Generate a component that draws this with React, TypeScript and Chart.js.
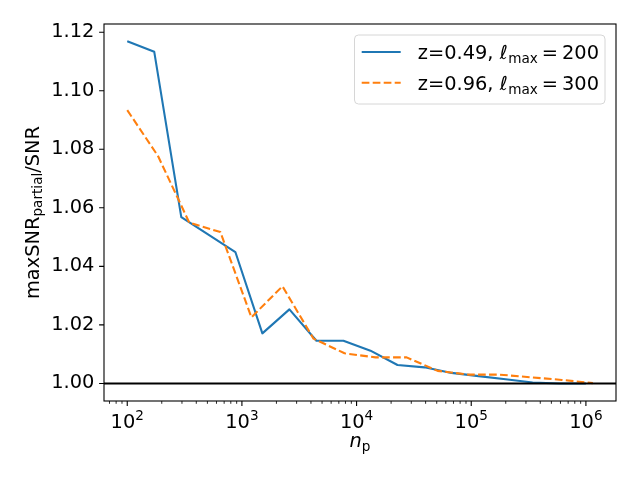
import { useEffect, useRef } from "react";
import { Chart, registerables } from "chart.js";

Chart.register(...registerables);

// series
const blueX = [100, 172, 296, 510, 877, 1508, 2595, 4465, 7682, 13219, 22744, 39132, 67331, 115848, 199328, 342965, 590103, 1000000];
const blueY = [1.1169, 1.1133, 1.0568, 1.0508, 1.0449, 1.0171, 1.0253, 1.0146, 1.0146, 1.0112, 1.0063, 1.0055, 1.0036, 1.0025, 1.0014, 1.0003, 1.0, 1.0];

const orangeX = [100, 186, 348, 649, 1210, 2257, 4210, 7852, 14646, 27317, 50951, 95034, 177254, 330613, 616646, 1150154];
const orangeY = [1.0934, 1.0776, 1.0549, 1.0517, 1.0226, 1.0332, 1.0153, 1.0103, 1.0089, 1.0089, 1.0043, 1.003, 1.003, 1.0021, 1.0012, 1.0001];

const seriesLabels = [
  { pre: "z=0.49, ", value: "200" },
  { pre: "z=0.96, ", value: "300" },
];

const yTickValues = [1.0, 1.02, 1.04, 1.06, 1.08, 1.1, 1.12];
const xMajorTicks = [1e2, 1e3, 1e4, 1e5, 1e6];
const xTickExponents = ["2", "3", "4", "5", "6"];
const refLineValue = 1.0;

const xMin = 62.7;
const xMax = 1.83e6;
const yMin = 0.994;
const yMax = 1.1228;

const BLUE = "#1f77b4";
const ORANGE = "#ff7f0e";
const FONT = "DejaVu Sans";
const FS = 19.4;
const SUB = 13.6;

function minorTicks() {
  const out: number[] = [];
  for (let e = 1; e <= 6; e++) {
    for (let m = 2; m <= 9; m++) {
      const v = m * Math.pow(10, e);
      if (v >= xMin && v <= xMax) out.push(v);
    }
  }
  return out;
}

const mplAxes = {
  id: "mplAxes",
  afterDatasetsDraw(chart: any) {
    const { ctx, chartArea: a, scales } = chart;
    const xs = scales.x;
    const ys = scales.y;
    ctx.save();

    // horizontal reference line at 1
    const py1 = ys.getPixelForValue(refLineValue);
    ctx.strokeStyle = "#000";
    ctx.lineWidth = 2.08;
    ctx.beginPath();
    ctx.moveTo(a.left, py1);
    ctx.lineTo(a.right, py1);
    ctx.stroke();

    // frame
    ctx.lineWidth = 1.1;
    ctx.strokeRect(a.left, a.top, a.right - a.left, a.bottom - a.top);

    // tick marks
    ctx.beginPath();
    yTickValues.forEach((v) => {
      const py = ys.getPixelForValue(v);
      ctx.moveTo(a.left - 4.9, py);
      ctx.lineTo(a.left, py);
    });
    xMajorTicks.forEach((v) => {
      const px = xs.getPixelForValue(v);
      ctx.moveTo(px, a.bottom);
      ctx.lineTo(px, a.bottom + 4.9);
    });
    ctx.stroke();
    ctx.lineWidth = 0.85;
    ctx.beginPath();
    minorTicks().forEach((v) => {
      const px = xs.getPixelForValue(v);
      ctx.moveTo(px, a.bottom);
      ctx.lineTo(px, a.bottom + 2.8);
    });
    ctx.stroke();

    // x tick labels, 10 with superscript
    ctx.fillStyle = "#000";
    ctx.textBaseline = "alphabetic";
    ctx.textAlign = "left";
    xMajorTicks.forEach((v, i) => {
      const px = xs.getPixelForValue(v);
      ctx.font = `${FS}px ${FONT}`;
      const w1 = ctx.measureText("10").width;
      ctx.font = `${SUB}px ${FONT}`;
      const w2 = ctx.measureText(xTickExponents[i]).width;
      const x0 = px - (w1 + w2) / 2;
      ctx.font = `${FS}px ${FONT}`;
      ctx.fillText("10", x0, 427.5);
      ctx.font = `${SUB}px ${FONT}`;
      ctx.fillText(xTickExponents[i], x0 + w1, 420);
    });

    // x title: n_p
    {
      ctx.font = `italic ${FS}px ${FONT}`;
      const wn = ctx.measureText("n").width;
      ctx.font = `${SUB}px ${FONT}`;
      const wp = ctx.measureText("p").width;
      const cx = (a.left + a.right) / 2;
      const x0 = cx - (wn + wp) / 2;
      ctx.font = `italic ${FS}px ${FONT}`;
      ctx.fillText("n", x0, 447);
      ctx.font = `${SUB}px ${FONT}`;
      ctx.fillText("p", x0 + wn, 450.5);
    }

    // y title: maxSNR_partial/SNR
    {
      ctx.save();
      ctx.translate(38.5, (a.top + a.bottom) / 2);
      ctx.rotate(-Math.PI / 2);
      ctx.font = `${FS}px ${FONT}`;
      const w1 = ctx.measureText("maxSNR").width;
      const w3 = ctx.measureText("/SNR").width;
      ctx.font = `${SUB}px ${FONT}`;
      const w2 = ctx.measureText("partial").width;
      let x0 = -(w1 + w2 + w3) / 2;
      ctx.font = `${FS}px ${FONT}`;
      ctx.fillText("maxSNR", x0, 0);
      x0 += w1;
      ctx.font = `${SUB}px ${FONT}`;
      ctx.fillText("partial", x0, 3.5);
      x0 += w2;
      ctx.font = `${FS}px ${FONT}`;
      ctx.fillText("/SNR", x0, 0);
      ctx.restore();
    }

    // legend
    {
      const bx = 354.5, by = 35, bw = 250.5, bh = 69, r = 4;
      ctx.beginPath();
      ctx.moveTo(bx + r, by);
      ctx.arcTo(bx + bw, by, bx + bw, by + bh, r);
      ctx.arcTo(bx + bw, by + bh, bx, by + bh, r);
      ctx.arcTo(bx, by + bh, bx, by, r);
      ctx.arcTo(bx, by, bx + bw, by, r);
      ctx.closePath();
      ctx.fillStyle = "rgba(255,255,255,0.8)";
      ctx.fill();
      ctx.strokeStyle = "#d6d6d6";
      ctx.lineWidth = 1;
      ctx.stroke();

      const rows = [
        { y: 52, color: BLUE, dash: [] as number[] },
        { y: 82.7, color: ORANGE, dash: [7.7, 3.3] },
      ];
      rows.forEach((row, i) => {
        ctx.strokeStyle = row.color;
        ctx.lineWidth = 2.08;
        ctx.setLineDash(row.dash);
        ctx.beginPath();
        ctx.moveTo(361.7, row.y);
        ctx.lineTo(400.7, row.y);
        ctx.stroke();
        ctx.setLineDash([]);

        const base = row.y + 7.3;
        let x = 417.7;
        ctx.fillStyle = "#000";
        ctx.font = `${FS}px ${FONT}`;
        ctx.fillText(seriesLabels[i].pre, x, base);
        x += ctx.measureText(seriesLabels[i].pre).width;
        ctx.font = `italic ${FS}px ${FONT}`;
        ctx.fillText("\u2113", x, base);
        x += ctx.measureText("\u2113").width + 0.5;
        ctx.font = `${SUB}px ${FONT}`;
        ctx.fillText("max", x, base + 3.5);
        x += ctx.measureText("max").width + 4;
        ctx.font = `${FS}px ${FONT}`;
        ctx.fillText("=", x, base);
        x += ctx.measureText("=").width + 4;
        ctx.fillText(seriesLabels[i].value, x, base);
      });
    }

    ctx.restore();
  },
};

export default function App() {
  const canvasRef = useRef<HTMLCanvasElement>(null);
  const chartRef = useRef<Chart | null>(null);

  useEffect(() => {
    if (!canvasRef.current) return;
    if (chartRef.current) chartRef.current.destroy();
    Chart.defaults.font.family = FONT;

    chartRef.current = new Chart(canvasRef.current, {
      type: "line",
      data: {
        datasets: [
          {
            label: "z=0.49",
            data: blueX.map((x, i) => ({ x, y: blueY[i] })),
            borderColor: BLUE,
            borderWidth: 2.08,
            pointRadius: 0,
            tension: 0,
            fill: false,
            borderJoinStyle: "round",
            order: 1,
          },
          {
            label: "z=0.96",
            data: orangeX.map((x, i) => ({ x, y: orangeY[i] })),
            borderColor: ORANGE,
            borderWidth: 2.08,
            borderDash: [7.7, 3.3],
            pointRadius: 0,
            tension: 0,
            fill: false,
            borderJoinStyle: "round",
            order: 0,
          },
        ],
      },
      options: {
        animation: false,
        responsive: true,
        maintainAspectRatio: false,
        layout: { padding: { top: 24, right: 24, left: 0, bottom: 0 } },
        plugins: {
          legend: { display: false },
          tooltip: { enabled: false },
        },
        scales: {
          x: {
            type: "logarithmic",
            min: xMin,
            max: xMax,
            grid: { display: false, drawTicks: false },
            border: { display: false },
            ticks: { display: false },
            afterFit: (s: any) => {
              s.height = 79;
            },
          },
          y: {
            type: "linear",
            min: yMin,
            max: yMax,
            grid: { display: false, drawTicks: false },
            border: { display: false },
            afterBuildTicks: (s: any) => {
              s.ticks = yTickValues.map((v) => ({ value: v }));
            },
            ticks: {
              color: "#000",
              padding: 9.7,
              font: { family: FONT, size: FS },
              callback: (v: any) => Number(v).toFixed(2),
            },
            afterFit: (s: any) => {
              s.width = 104;
            },
          },
        },
      },
      plugins: [mplAxes],
    });

    return () => {
      if (chartRef.current) {
        chartRef.current.destroy();
        chartRef.current = null;
      }
    };
  }, []);

  return (
    <div style={{ position: "fixed", left: 0, top: 0, width: 640, height: 480, background: "#fff" }}>
      <canvas ref={canvasRef} />
    </div>
  );
}
